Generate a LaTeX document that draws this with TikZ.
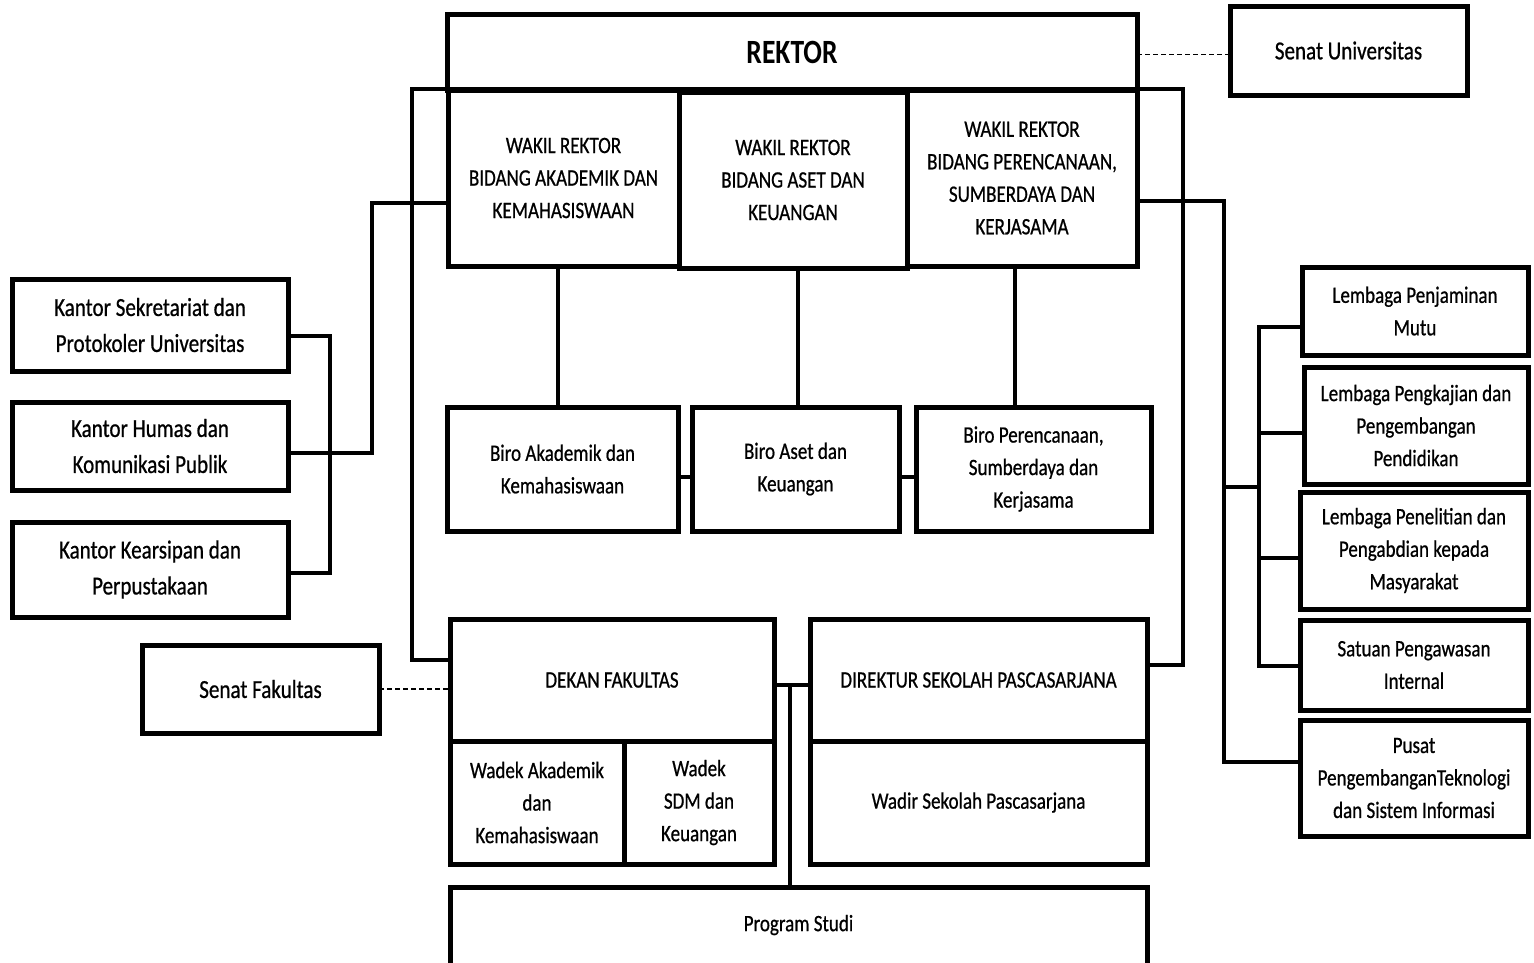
\documentclass[tikz,border=0pt]{standalone}
\usepackage{fontspec}
\setmainfont{Carlito}[FakeStretch=0.81,UprightFeatures={FakeBold=0.7}]
\newcommand\mkbox[7]{\node[box,#6,minimum width={#4-#2},minimum height={#5-#3}] (#1) at ({(#2+#4)/2},{(#3+#5)/2}) {#7};}
\tikzset{
  box/.style={draw,line width=5pt,inner sep=0pt,outer sep=0pt,align=center},
  plain/.style={inner sep=0pt,outer sep=0pt,align=center},
  boxline/.style={line width=5pt,line join=miter},
  conn/.style={line width=4pt,line join=miter},
  dsh/.style={line width=1.3pt,dash pattern=on 5pt off 3pt},
  fR/.style={font=\bfseries\fontsize{34}{40}\selectfont},
  fA/.style={font=\fontsize{26}{36}\selectfont},
  fB/.style={font=\fontsize{23.5}{32.5}\selectfont},
}
\begin{document}
\begin{tikzpicture}[x=1pt,y=-1pt]
\useasboundingbox (0,0) rectangle (1534,962);
% top
\mkbox{rektor}{447}{14}{1137}{90}{fR}{REKTOR}
\mkbox{senatU}{1230}{6}{1467}{95}{fA}{Senat Universitas}
\mkbox{wr1}{448}{90}{679}{266}{fB}{WAKIL REKTOR\\BIDANG AKADEMIK DAN\\KEMAHASISWAAN}
\mkbox{wr2}{679}{92}{907}{268}{fB}{WAKIL REKTOR\\BIDANG ASET DAN\\KEUANGAN}
\mkbox{wr3}{907}{90}{1137}{266}{fB}{WAKIL REKTOR\\BIDANG PERENCANAAN,\\SUMBERDAYA DAN\\KERJASAMA}
% biro
\mkbox{biro1}{447}{407}{678}{531}{fB}{Biro Akademik dan\\Kemahasiswaan}
\mkbox{biro2}{692}{407}{899}{531}{fB}{Biro Aset dan\\Keuangan}
\mkbox{biro3}{916}{407}{1151}{531}{fB}{Biro Perencanaan,\\Sumberdaya dan\\Kerjasama}
% kantor
\mkbox{k1}{12}{279}{288}{371}{fA}{Kantor Sekretariat dan\\Protokoler Universitas}
\mkbox{k2}{12}{402}{288}{490}{fA}{Kantor Humas dan\\Komunikasi Publik}
\mkbox{k3}{12}{522}{288}{617}{fA}{Kantor Kearsipan dan\\Perpustakaan}
\mkbox{senatF}{142}{645}{379}{733}{fA}{Senat Fakultas}
% fakultas
\mkbox{dekan}{450}{619}{774}{741}{fB}{DEKAN FAKULTAS}
\mkbox{wadek1}{450}{741}{624}{864}{fB}{Wadek Akademik\\dan\\Kemahasiswaan}
\mkbox{wadek2}{624}{741}{774}{864}{fB}{Wadek\\SDM dan\\Keuangan}
\mkbox{direktur}{810}{619}{1147}{741}{fB}{DIREKTUR SEKOLAH PASCASARJANA}
\mkbox{wadir}{810}{741}{1147}{864}{fB}{Wadir Sekolah Pascasarjana}
\node[plain,fB,minimum width=697,minimum height=76] (prodi) at (798.5,925) {Program Studi};
\draw[boxline] ([yshift=-10pt]prodi.south west) -- (prodi.north west) -- (prodi.north east) -- ([yshift=-10pt]prodi.south east);
% lembaga
\mkbox{lpm}{1302}{267}{1528}{355}{fB}{Lembaga Penjaminan\\Mutu}
\mkbox{lppp}{1304}{367}{1528}{484}{fB}{Lembaga Pengkajian dan\\Pengembangan\\Pendidikan}
\mkbox{lppm}{1300}{492}{1528}{609}{fB}{Lembaga Penelitian dan\\Pengabdian kepada\\Masyarakat}
\mkbox{spi}{1300}{620}{1528}{710}{fB}{Satuan Pengawasan\\Internal}
\mkbox{pusat}{1300}{720}{1528}{836}{fB}{Pusat\\PengembanganTeknologi\\dan Sistem Informasi}
% coordinates
\coordinate (lbus) at (412,89);
\coordinate (rbus) at (1183,89);
\coordinate (lj) at (372,453);
\coordinate (kb) at (330,453);
\coordinate (rj) at (1224,487);
\coordinate (rk) at (1259,487);
\coordinate (dj) at (790,685);
% connectors
\draw[conn] ([yshift=-41pt]dekan.north west) -| (lbus) -- (rbus) |- ([yshift=-46pt]direktur.north east);
\draw[conn] ([yshift=-25pt]wr1.west) -| (lj) -- ([yshift=-7pt]k2.east);
\draw[conn] ([yshift=-11pt]k1.east) -| (kb) |- ([yshift=-3.5pt]k3.east);
\draw[conn] ([xshift=-6pt]wr1.south) -- ([xshift=-6pt]wr1.south |- biro1.north);
\draw[conn] ([xshift=5pt]wr2.south) -- ([xshift=5pt]wr2.south |- biro2.north);
\draw[conn] ([xshift=-7pt]wr3.south) -- ([xshift=-7pt]wr3.south |- biro3.north);
\draw[conn] ([yshift=-8pt]biro1.east) -- ([yshift=-8pt]biro2.west);
\draw[conn] ([yshift=-8pt]biro2.east) -- ([yshift=-8pt]biro3.west);
\draw[conn] ([yshift=-23pt]wr3.east) -| (rj) |- ([yshift=16pt]pusat.west);
\draw[conn] (rj) -- (rk);
\draw[conn] ([yshift=-16pt]lpm.west) -| (rk) |- ([yshift=-1pt]spi.west);
\draw[conn] ([yshift=-7.5pt]lppp.west) -- ([yshift=-7.5pt]lppp.west -| rk);
\draw[conn] ([yshift=-7.5pt]lppm.west) -- ([yshift=-7.5pt]lppm.west -| rk);
\draw[conn] ([yshift=-66pt]dekan.north east) -- ([yshift=-66pt]direktur.north west);
\draw[conn] (dj) -- (dj |- prodi.north);
\draw[dsh] ([yshift=-4pt]senatU.west -| rektor.east) -- ([yshift=-4pt]senatU.west);
\draw[dsh] (senatF.east) -- (senatF.east -| dekan.west);
\end{tikzpicture}
\end{document}
